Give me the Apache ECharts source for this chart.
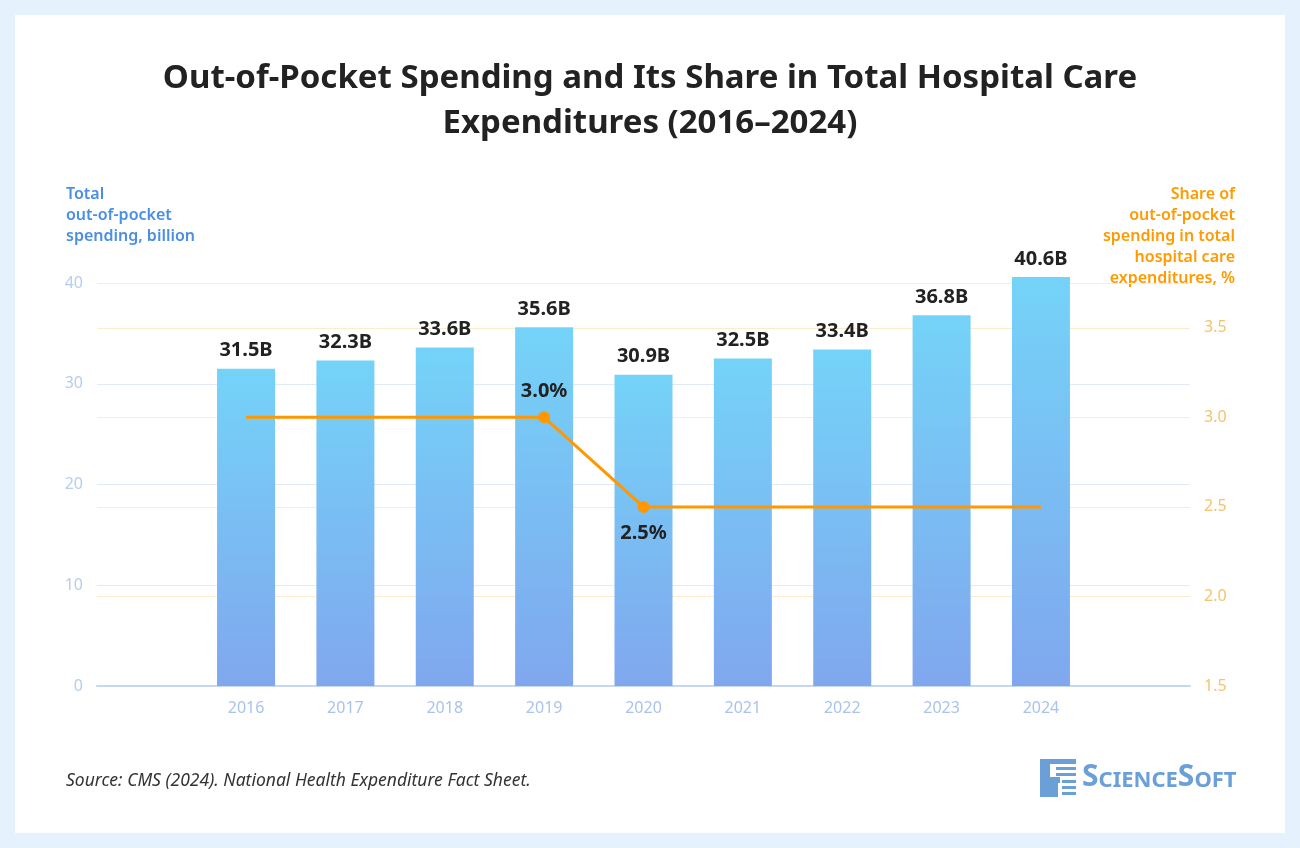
<!DOCTYPE html>
<html>
<head>
<meta charset="utf-8">
<script src="https://cdn.jsdelivr.net/npm/echarts@6/dist/echarts.min.js"></script>
<style>
  html, body { margin: 0; padding: 0; background: #e5f1fc; }
  #card { position: absolute; left: 15px; top: 15px; width: 1270px; height: 818px; background: #fff; }
  #chart { position: absolute; left: 0; top: 0; width: 1300px; height: 848px; }
</style>
</head>
<body>
<div id="card"></div>
<div id="chart"></div>
<script>
// Values
const years = ['', '2016', '2017', '2018', '2019', '2020', '2021', '2022', '2023', '2024', ''];
const spending = [null, 31.5, 32.3, 33.6, 35.6, 30.9, 32.5, 33.4, 36.8, 40.6, null];
const share = [null, 3.0, 3.0, 3.0, 3.0, 2.5, 2.5, 2.5, 2.5, 2.5, null];
const labelledShare = { 4: 'top', 5: 'bottom' };

const chart = echarts.init( document.getElementById( 'chart' ) );

const lineData = share.map( ( v, i ) => {
  if ( v === null ) return null;
  const pos = labelledShare[i];
  if ( !pos ) return { value: v, symbolSize: 0, label: { show: false } };
  return {
    value: v,
    symbolSize: 12,
    label: { show: true, position: pos, distance: 10, formatter: v.toFixed( 1 ) + '%' }
  };
} );

const logoBlue = '#6a9fd8';

chart.setOption( {
  backgroundColor: 'transparent',
  textStyle: { fontFamily: 'Noto Sans' },
  title: {
    text: 'Out-of-Pocket Spending and Its Share in Total Hospital Care\nExpenditures (2016–2024)',
    left: 'center',
    top: 51,
    textStyle: { fontSize: 33, fontWeight: 'bold', color: '#222', lineHeight: 45, fontFamily: 'Noto Sans' }
  },
  grid: { left: 97, right: 110, top: 283, bottom: 162 },
  xAxis: {
    type: 'category',
    data: years,
    axisLine: { lineStyle: { color: '#c5d8f3', width: 2 } },
    axisTick: { show: false },
    axisLabel: { color: '#a9c3ec', fontSize: 16, margin: 14 }
  },
  yAxis: [
    {
      type: 'value', min: 0, max: 40, interval: 10,
      axisLabel: { color: '#b5cdf0', fontSize: 16, margin: 14 },
      splitLine: { lineStyle: { color: '#e1ebf8' } },
      axisLine: { show: false }, axisTick: { show: false }
    },
    {
      type: 'value', min: 1.5, max: 3.75, interval: 0.5,
      axisLabel: { color: '#f5c36b', fontSize: 16, showMaxLabel: false, margin: 14,
        formatter: v => v.toFixed( 1 ) },
      splitLine: { lineStyle: { color: '#fcebcc' } },
      axisLine: { show: false }, axisTick: { show: false }
    }
  ],
  series: [
    {
      type: 'bar',
      data: spending,
      barWidth: 58,
      clip: false,
      itemStyle: {
        color: new echarts.graphic.LinearGradient( 0, 0, 0, 1, [
          { offset: 0, color: '#74d3f8' },
          { offset: 1, color: '#80a7ee' }
        ] )
      },
      label: {
        show: true, position: 'top', distance: 8,
        formatter: p => p.value + 'B',
        color: '#222', fontSize: 20, fontWeight: 'bold'
      }
    },
    {
      type: 'line',
      yAxisIndex: 1,
      data: lineData,
      symbol: 'circle',
      lineStyle: { color: '#ff9800', width: 3 },
      itemStyle: { color: '#ff9800' },
      label: { color: '#222', fontSize: 20, fontWeight: 'bold' },
      z: 5
    }
  ],
  graphic: [
    {
      type: 'text', left: 66, top: 184,
      style: { text: 'Total\nout-of-pocket\nspending, billion', fill: '#4a8fe6',
        font: '600 16px "Noto Sans"', lineHeight: 21 }
    },
    {
      type: 'text', x: 1235, y: 184,
      style: { text: 'Share of\nout-of-pocket\nspending in total\nhospital care\nexpenditures, %',
        fill: '#ff9a00', font: '600 16px "Noto Sans"', lineHeight: 21, align: 'right' }
    },
    {
      type: 'text', left: 66, top: 772,
      style: { text: 'Source: CMS (2024). National Health Expenditure Fact Sheet.', fill: '#333',
        font: 'italic 17.5px "Noto Sans"' }
    },
    // logo
    {
      type: 'group', left: 1040, top: 759,
      children: [
        { type: 'rect', shape: { x: 0, y: 0, width: 10, height: 38 }, style: { fill: logoBlue } },
        { type: 'rect', shape: { x: 0, y: 0, width: 36, height: 5 }, style: { fill: logoBlue } },
        { type: 'rect', shape: { x: 16, y: 8, width: 20, height: 3 }, style: { fill: logoBlue } },
        { type: 'rect', shape: { x: 16, y: 14, width: 20, height: 3 }, style: { fill: logoBlue } },
        { type: 'rect', shape: { x: 10, y: 18, width: 10, height: 6 }, style: { fill: logoBlue } },
        { type: 'rect', shape: { x: 22, y: 21, width: 14, height: 3 }, style: { fill: logoBlue } },
        { type: 'rect', shape: { x: 22, y: 27, width: 14, height: 3 }, style: { fill: logoBlue } },
        { type: 'rect', shape: { x: 22, y: 33, width: 14, height: 3 }, style: { fill: logoBlue } },
        { type: 'rect', shape: { x: 10, y: 24, width: 8, height: 14 }, style: { fill: logoBlue } },
        { type: 'text', x: 42, y: 3,
          style: {
            text: '{b|S}{s|CIENCE}{b|S}{s|OFT}',
            rich: {
              b: { fill: logoBlue, font: 'bold 30px "Noto Sans"', verticalAlign: 'bottom' },
              s: { fill: logoBlue, font: 'bold 22px "Noto Sans"', verticalAlign: 'bottom' }
            }
          } }
      ]
    }
  ]
} );
</script>
</body>
</html>
